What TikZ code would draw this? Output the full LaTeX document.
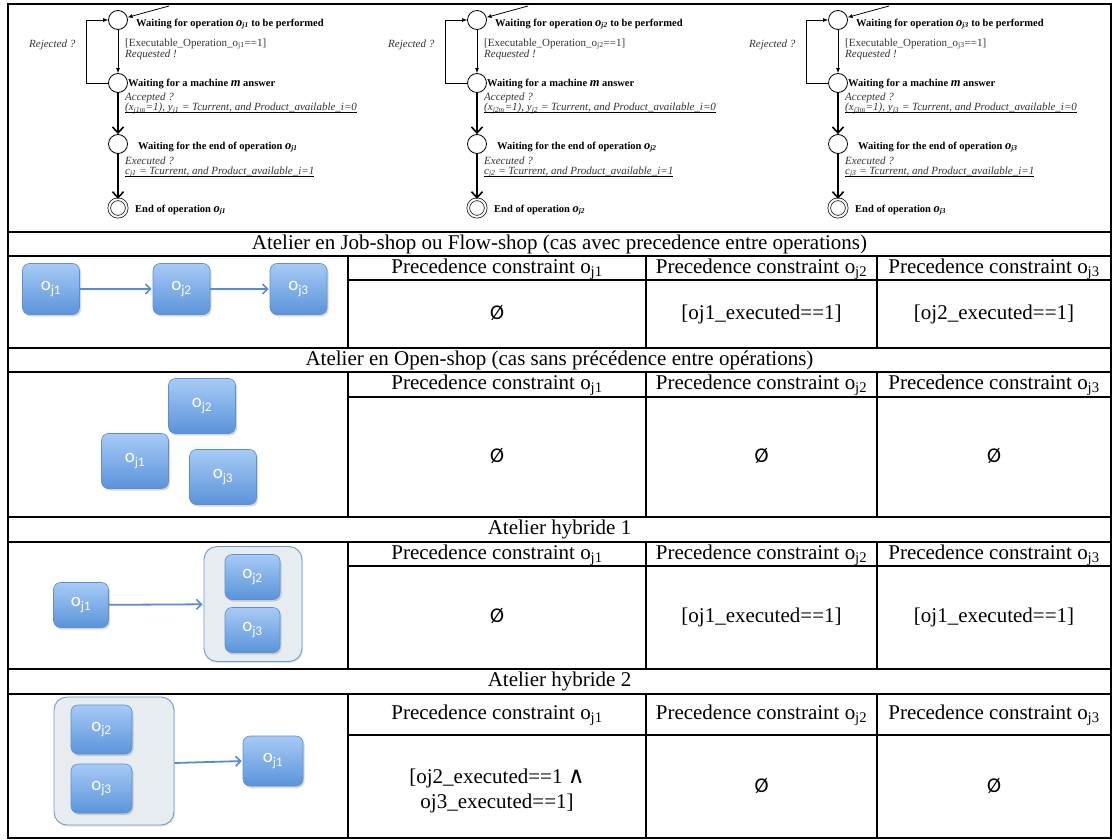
\documentclass[tikz,border=0pt]{standalone}
\usepackage{fontspec}
\setmainfont{Liberation Serif}
\newfontfamily\boxfont{Carlito}
\newfontfamily\djvfont{DejaVu Sans}
\usetikzlibrary{arrows.meta,shadows}
\definecolor{boxtop}{HTML}{A7CAF6}
\definecolor{boxbot}{HTML}{5A94DA}
\definecolor{boxline}{HTML}{5C8FD0}
\definecolor{arrowblue}{HTML}{5A8CCD}
\definecolor{contfill}{HTML}{E7ECF1}
\definecolor{contline}{HTML}{6C9AD2}
\definecolor{txtgray}{HTML}{333333}
\newcommand{\opsub}[1]{{\fontsize{12.5}{12}\selectfont\bfseries\itshape o}{\bfseries\itshape\textsubscript{j#1}}}
\newcommand{\boxlab}[1]{o\textsubscript{j#1}}
\newcommand{\pc}[1]{Precedence constraint o\textsubscript{j#1}}
\newcommand{\emptyv}{{\boxfont\fontsize{21}{21}\selectfont Ø}}
\begin{document}
\begin{tikzpicture}[x=1pt,y=-1pt,
  tline/.style={line width=1.8pt},
  hdr/.style={font=\fontsize{21}{25}\selectfont, inner sep=0pt, text height=14pt, text depth=4pt},
  opbox/.style={rectangle, rounded corners=7pt, top color=boxtop, bottom color=boxbot, draw=boxline, line width=0.6pt, drop shadow={opacity=0.3,shadow xshift=1.5pt,shadow yshift=-2pt}, text=white, font=\boxfont\fontsize{19}{19}\selectfont, inner sep=0pt},
  cont/.style={rectangle, rounded corners=13pt, fill=contfill, draw=contline, line width=0.9pt, drop shadow={opacity=0.2,shadow xshift=1pt,shadow yshift=-1.5pt}},
  barrow/.style={draw=arrowblue, line width=1.8pt, -{Straight Barb[length=5pt,width=10pt,line width=1.6pt]}, shorten >=1pt},
  state/.style={circle, draw, line width=0.8pt, minimum size=19pt, inner sep=0pt},
  fstate/.style={circle, draw, double, line width=0.7pt, double distance=2pt, minimum size=17.5pt, inner sep=0pt},
  smallarr/.style={line width=0.8pt, -{Latex[length=5pt,width=4pt]}},
  bigarr/.style={line width=1.2pt, -{Straight Barb[length=6pt,width=11pt,line width=1.6pt]}},
  blab/.style={font=\fontsize{10.5}{11}\selectfont\bfseries, anchor=west, inner sep=0pt},
  rlab/.style={font=\fontsize{11}{11}\selectfont, text=txtgray, anchor=west, inner sep=0pt},
  ilab/.style={font=\fontsize{11}{12}\selectfont\itshape, text=txtgray, anchor=west, inner sep=0pt},
  ulin/.style={line width=1.1pt},
]
\useasboundingbox (0,0) rectangle (1116,840);
\fill[white] (0,0) rectangle (1116,840);

% ---------- automata ----------
\foreach \k/\dx in {1/0,2/359,3/720}{
\begin{scope}[xshift=\dx pt]
 \node[state] (a\k) at (118,20) {};
 \node[state] (b\k) at (118,83) {};
 \node[state] (c\k) at (118,144) {};
 \node[fstate] (d\k) at (118,208) {};
 \coordinate (in\k) at (169,6);
 \draw[smallarr] (in\k) -- (a\k);
 \draw[smallarr] (a\k) -- (b\k);
 \draw[smallarr] (b\k.west) -- ++(-22,0) |- (a\k.west);
 \draw[bigarr] (b\k) -- (c\k);
 \draw[bigarr] (c\k) -- (d\k);
 \node[blab] (la\k) at (136,24) {Waiting for operation \opsub{\k} to be performed};
 \node[rlab] (ex\k) at (125,44) {[Executable\_Operation\_o\textsubscript{j\k}==1]};
 \node[ilab] (rq\k) at (125,55) {Requested !};
 \node[ilab] (rj\k) at (29,45) {Rejected ?};
 \node[blab] (lb\k) at (128,84) {Waiting for a machine {\fontsize{12.5}{12}\selectfont\itshape m} answer};
 \node[ilab] (ac\k) at (125,97.5) {Accepted ?};
 \node[ilab] (ua\k) at (125,108.5) {(x\textsubscript{j\k m}=1), y\textsubscript{j\k} = Tcurrent, and Product\_available\_i=0};
 \draw[ulin] ([yshift=-2pt]ua\k.base west) -- ([yshift=-2pt]ua\k.base east);
 \node[blab] (lc\k) at (138,147) {Waiting for the end of operation \opsub{\k}};
 \node[ilab] (xq\k) at (125,160.5) {Executed ?};
 \node[ilab] (ub\k) at (125,172) {c\textsubscript{j\k} = Tcurrent, and Product\_available\_i=1};
 \draw[ulin] ([yshift=-2pt]ub\k.base west) -- ([yshift=-2pt]ub\k.base east);
 \node[blab] (ld\k) at (135,210) {End of operation \opsub{\k}};
\end{scope}}

% ---------- table ----------
\draw[tline] (8,4) rectangle (1111,838);
\foreach \yy in {232,256,348,372,517,542,669,694} \draw[tline] (8,\yy) -- (1111,\yy);
\foreach \yy in {280,397,566,735} \draw[tline] (348,\yy) -- (1111,\yy);
\foreach \ya/\yb in {256/348,372/517,542/669,694/838}{
  \foreach \xx in {348,646,877} \draw[tline] (\xx,\ya) -- (\xx,\yb);}

\node[hdr] (h1) at (559.5,244) {Atelier en Job-shop ou Flow-shop (cas avec precedence entre operations)};
\node[hdr] (h2) at (559.5,360) {Atelier en Open-shop (cas sans précédence entre opérations)};
\node[hdr] (h3) at (559.5,529.5) {Atelier hybride 1};
\node[hdr] (h4) at (559.5,681.5) {Atelier hybride 2};

\foreach \s/\yy in {1/268,2/384.5,3/554,4/714.5}{
  \node[hdr] (p\s a) at (497,\yy) {\pc{1}};
  \node[hdr] (p\s b) at (761.5,\yy) {\pc{2}};
  \node[hdr] (p\s c) at (994,\yy) {\pc{3}};
}
% values
\node[hdr] (v1a) at (497,314) {\emptyv};
\node[hdr] (v1b) at (761.5,314) {[oj1\_executed==1]};
\node[hdr] (v1c) at (994,314) {[oj2\_executed==1]};
\node[hdr] (v2a) at (497,457) {\emptyv};
\node[hdr] (v2b) at (761.5,457) {\emptyv};
\node[hdr] (v2c) at (994,457) {\emptyv};
\node[hdr] (v3a) at (497,617.5) {\emptyv};
\node[hdr] (v3b) at (761.5,617.5) {[oj1\_executed==1]};
\node[hdr] (v3c) at (994,617.5) {[oj1\_executed==1]};
\node[font=\fontsize{21}{25}\selectfont, align=center, inner sep=0pt] (v4a) at (497,791) {[oj2\_executed==1 {\djvfont\fontsize{23}{23}\selectfont ∧}\\ oj3\_executed==1]};
\node[hdr] (v4b) at (761.5,787) {\emptyv};
\node[hdr] (v4c) at (994,787) {\emptyv};

% ---------- job-shop boxes ----------
\node[opbox, minimum width=57pt, minimum height=51pt] (j1) at (51,289) {\boxlab1};
\node[opbox, minimum width=57pt, minimum height=51pt] (j2) at (181.5,289) {\boxlab2};
\node[opbox, minimum width=57pt, minimum height=51pt] (j3) at (298.5,289) {\boxlab3};
\draw[barrow] (j1) -- (j2);
\draw[barrow] (j2) -- (j3);

% ---------- open-shop boxes ----------
\node[opbox, minimum width=67pt, minimum height=55pt] (o2) at (202,406) {\boxlab2};
\node[opbox, minimum width=67pt, minimum height=55pt] (o1) at (135,461) {\boxlab1};
\node[opbox, minimum width=67pt, minimum height=55pt] (o3) at (223,477) {\boxlab3};

% ---------- hybride 1 ----------
\node[opbox, minimum width=55pt, minimum height=45pt] (k1) at (81,605) {\boxlab1};
\node[cont, minimum width=98pt, minimum height=115pt] (hc1) at (253,604) {};
\node[opbox, minimum width=55pt, minimum height=45pt] (k2) at (252.5,577) {\boxlab2};
\node[opbox, minimum width=55pt, minimum height=45pt] (k3) at (252.5,630) {\boxlab3};
\draw[barrow] (k1) -- (hc1);

% ---------- hybride 2 ----------
\node[cont, minimum width=120pt, minimum height=128pt] (hc2) at (114,761) {};
\node[opbox, minimum width=61pt, minimum height=49pt] (m2) at (101.5,729.5) {\boxlab2};
\node[opbox, minimum width=61pt, minimum height=49pt] (m3) at (101.5,788.5) {\boxlab3};
\node[opbox, minimum width=60pt, minimum height=50pt] (m1) at (273,761) {\boxlab1};
\draw[barrow] ([yshift=-2pt]hc2.east) -- (m1.west);
\end{tikzpicture}
\end{document}
